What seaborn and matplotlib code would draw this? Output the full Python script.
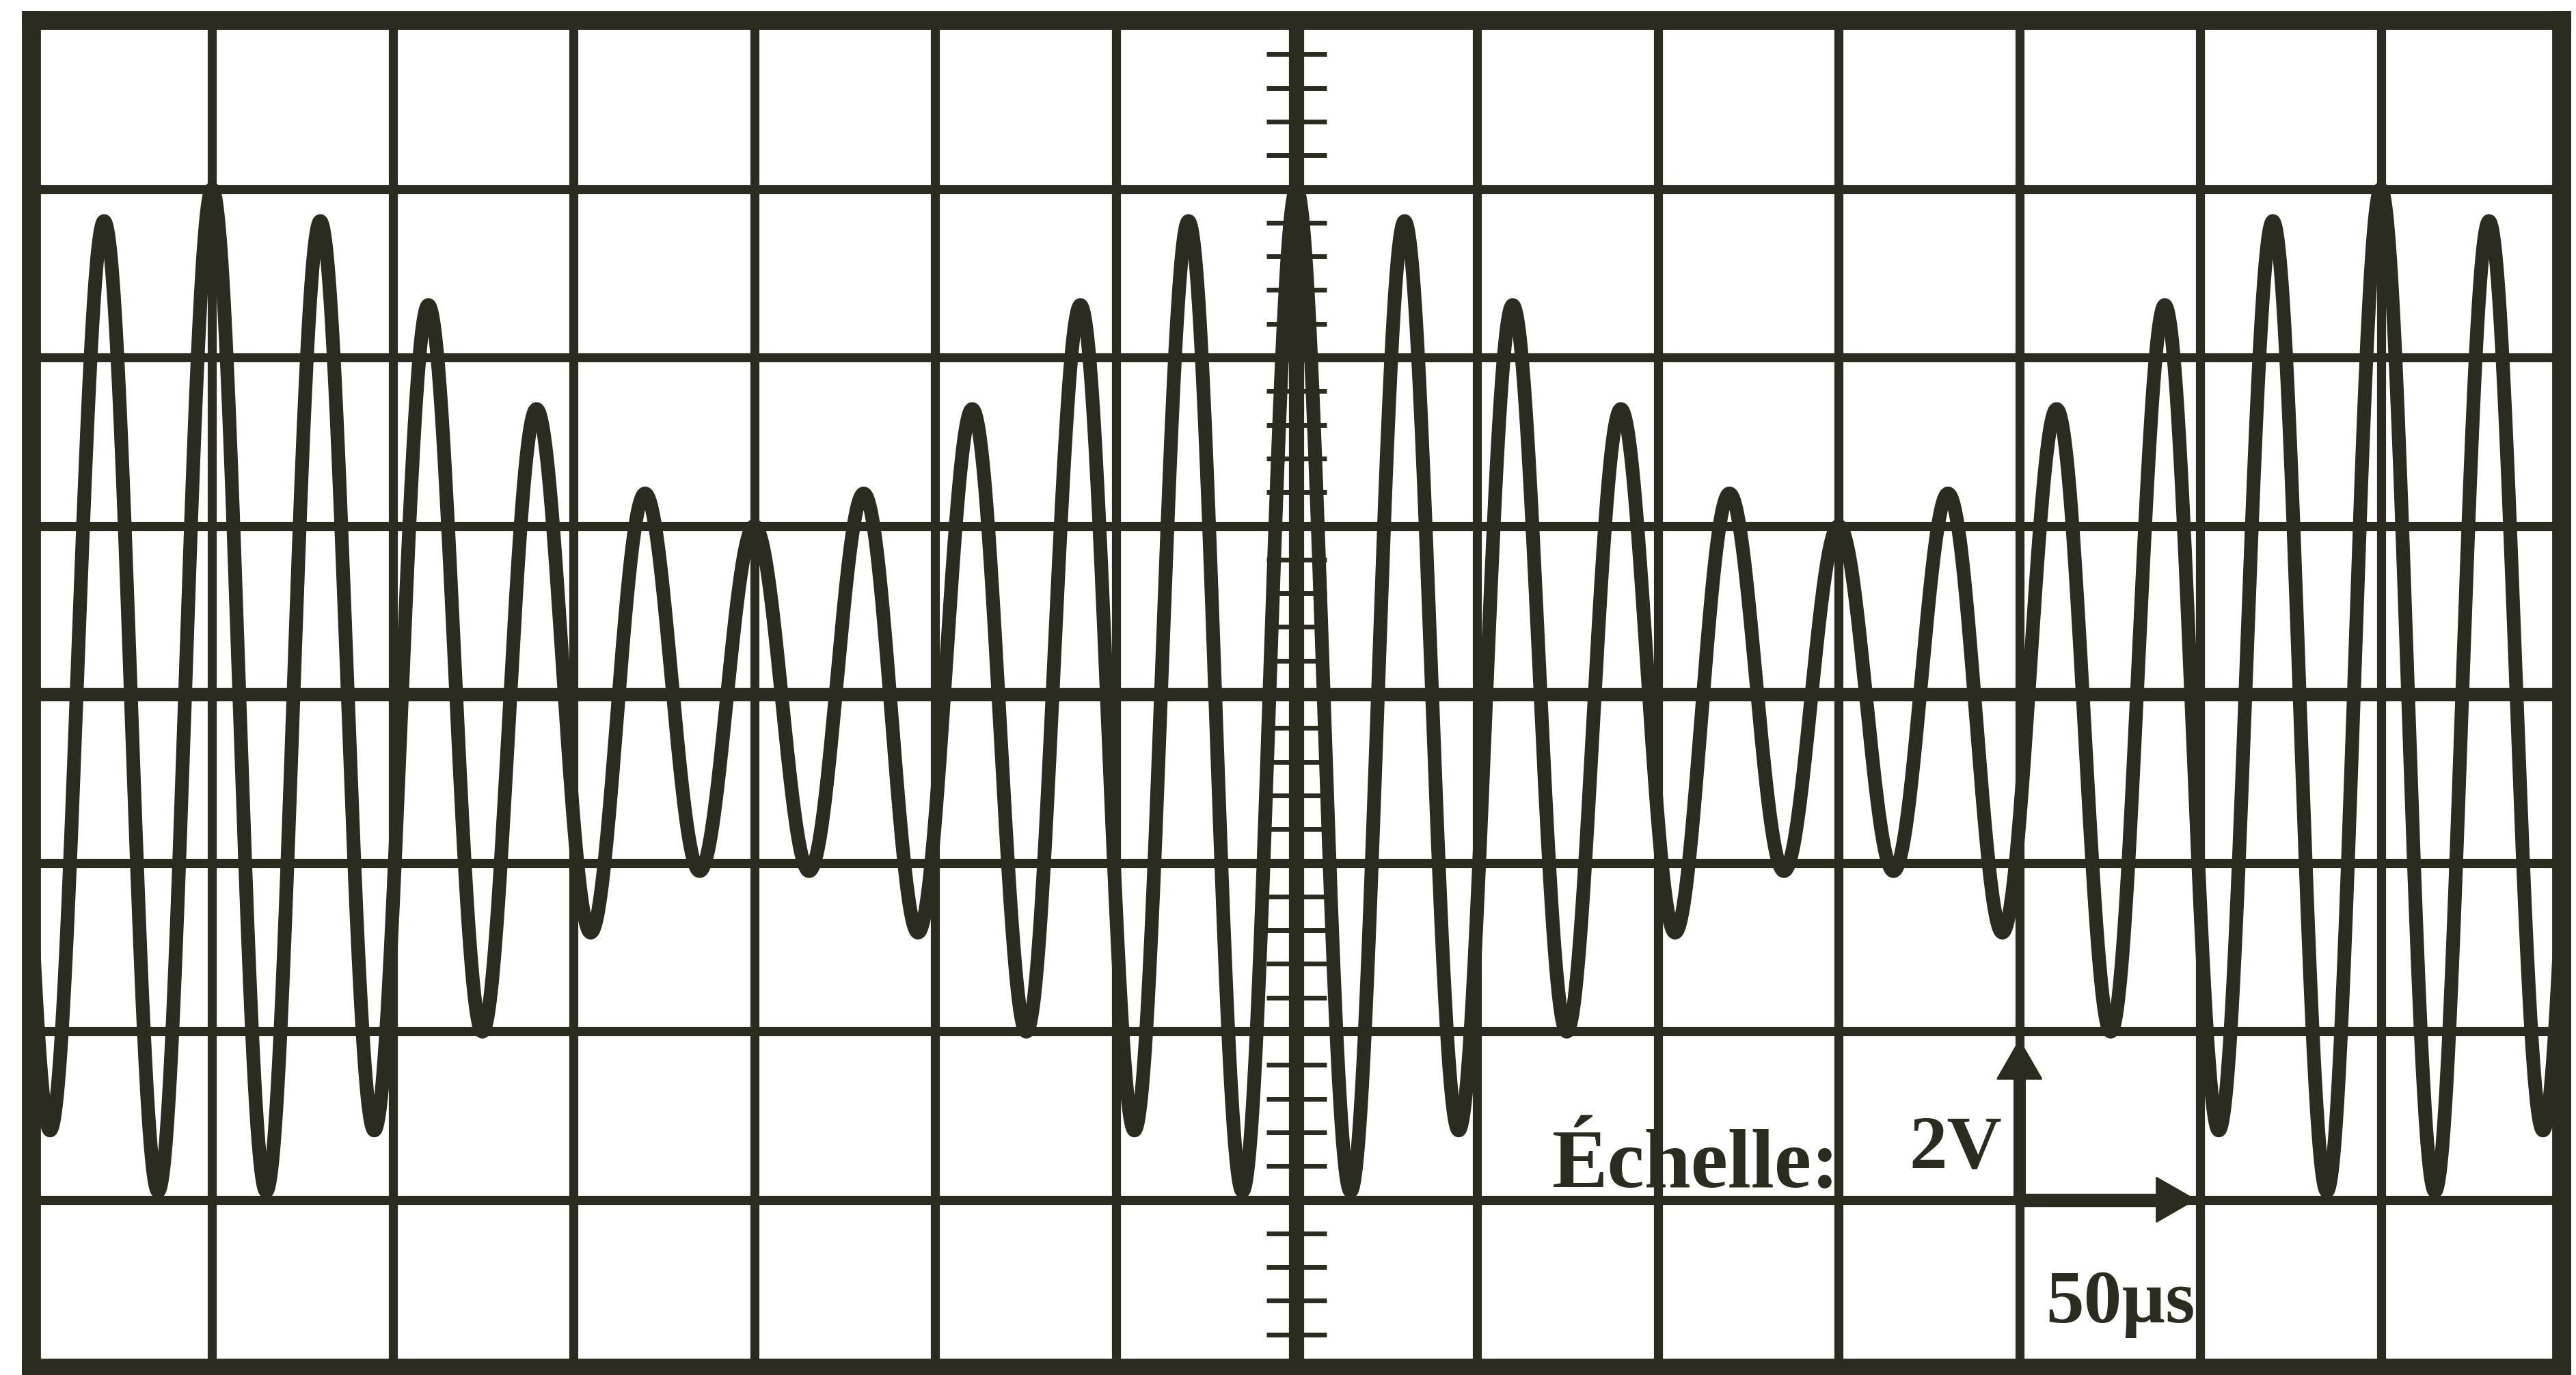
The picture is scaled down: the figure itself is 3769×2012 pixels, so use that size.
import numpy as np
import pandas as pd
import matplotlib
matplotlib.use("Agg")
import matplotlib.pyplot as plt
import seaborn as sns

# ---- values ----
time_div_us = 50          # horizontal scale: 50 µs / division
volt_div = 2              # vertical scale: 2 V / division
n_div_x = 14              # screen width in divisions
n_div_y = 8               # screen height in divisions
carrier_period_us = 30    # 0.6 div between successive carrier peaks
envelope_period_us = 300  # 6 div between envelope maxima
carrier_amp_v = 4         # mean amplitude (2 div)
modulation_amp_v = 2      # envelope swing (max 3 div, min 1 div)
envelope_peak_us = 0      # envelope maximum on the centre line
scale_labels = ["Échelle:", "2V", "50µs"]

# ---- signal table ----
t = np.linspace(-n_div_x / 2 * time_div_us, n_div_x / 2 * time_div_us, 8001)
env = carrier_amp_v + modulation_amp_v * np.cos(2 * np.pi * (t - envelope_peak_us) / envelope_period_us)
u = env * np.cos(2 * np.pi * (t - envelope_peak_us) / carrier_period_us)
df = pd.DataFrame({"t": t, "u": u})

ink = "#2c2b20"
W, H, DPI = 3769, 2012, 100

sns.set_theme(style="white")
plt.rcParams["font.family"] = ["Liberation Serif", "DejaVu Serif"]

fig = plt.figure(figsize=(W / DPI, H / DPI), dpi=DPI, facecolor="white")
ax = fig.add_axes([46 / W, 10 / H, 3702 / W, 1972 / H])
ax.set_facecolor("white")

xmax = n_div_x / 2 * time_div_us
ymax = n_div_y / 2 * volt_div
ax.set_xlim(-xmax, xmax)
ax.set_ylim(-ymax, ymax)

# graticule
ax.set_xticks(np.arange(-xmax, xmax + 1, time_div_us))
ax.set_yticks(np.arange(-ymax, ymax + 0.1, volt_div))
ax.grid(True, color=ink, lw=9.5, zorder=1)
ax.set_axisbelow(True)
ax.tick_params(length=0, labelbottom=False, labelleft=False)
for sp in ax.spines.values():
    sp.set_visible(True)
    sp.set_color(ink)
    sp.set_linewidth(20)
    sp.set_zorder(6)

# thicker centre axes
ax.axvline(0, color=ink, lw=16, zorder=2)
ax.axhline(0, color=ink, lw=14, zorder=2)
# small graduations on the vertical centre line (0.2 div)
minor = np.arange(-ymax, ymax + 1e-9, volt_div / 5)
ax.hlines(minor, -0.168 * time_div_us, 0.168 * time_div_us, color=ink, lw=5, zorder=2)

# signal
sns.lineplot(data=df, x="t", y="u", ax=ax, color=ink, lw=14.5, estimator=None,
             sort=False, zorder=4)
ax.set_xlabel("")
ax.set_ylabel("")

# scale arrows (2 V up, 50 µs right) starting at (4 div, -3 div)
x0 = 4 * time_div_us
y0 = -3 * volt_div
tip_v = y0 + 0.955 * volt_div
tip_h = x0 + 0.98 * time_div_us
ax.plot([x0, x0], [y0, tip_v - 0.3], color=ink, lw=13, solid_capstyle="butt", zorder=5)
ax.plot([x0, tip_h - 6], [y0, y0], color=ink, lw=14, solid_capstyle="butt", zorder=5)
head = dict(arrowstyle="-|>,head_length=0.40,head_width=0.23", mutation_scale=100,
            color=ink, lw=2, shrinkA=0, shrinkB=0)
ax.annotate("", xy=(x0, tip_v), xytext=(x0, tip_v - 0.6), arrowprops=head, zorder=5)
ax.annotate("", xy=(tip_h, y0), xytext=(tip_h - 15, y0), arrowprops=head, zorder=5)

# labels
ax.text(1.415 * time_div_us, -2.926 * volt_div, scale_labels[0], fontsize=88,
        fontweight="bold", color=ink, ha="left", va="baseline", zorder=5)
ax.text(3.39 * time_div_us, -2.81 * volt_div, scale_labels[1], fontsize=80,
        fontweight="bold", color=ink, ha="left", va="baseline", zorder=5)
ax.text(4.145 * time_div_us, -3.73 * volt_div, scale_labels[2], fontsize=80,
        fontweight="bold", color=ink, ha="left", va="baseline", zorder=5)

fig.savefig("out.png", dpi=DPI, facecolor="white")
